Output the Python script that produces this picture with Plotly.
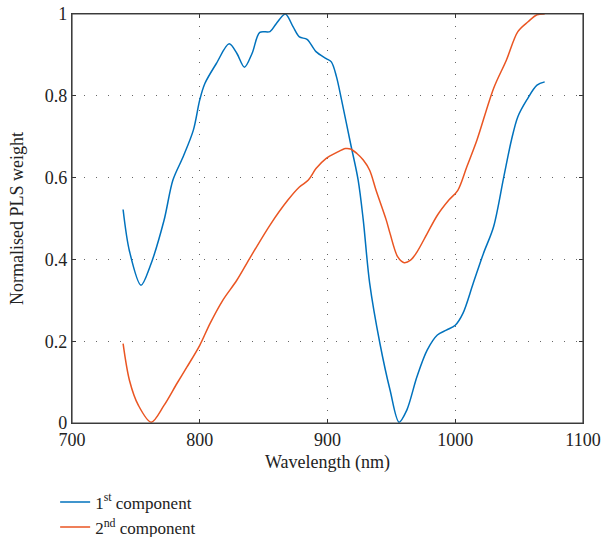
import plotly.graph_objects as go

wl_1 = [740, 745, 754, 761, 772, 779, 787, 795, 800, 804, 813, 823, 829, 835, 841, 847, 855, 860, 867,
        873, 878, 884, 891, 899, 903, 907, 911, 918, 924, 928, 933, 941, 949, 956, 962, 970, 978, 986,
        993, 1000, 1006, 1014, 1022, 1030, 1038, 1044, 1049, 1056, 1064, 1070]
w_1 = [0.522, 0.42, 0.337, 0.382, 0.495, 0.594, 0.651, 0.716, 0.79, 0.83, 0.879, 0.927, 0.904, 0.870,
       0.904, 0.955, 0.957, 0.977, 1.0, 0.969, 0.944, 0.938, 0.908, 0.891, 0.883, 0.847, 0.79, 0.684,
       0.594, 0.496, 0.342, 0.195, 0.08, 0.002, 0.031, 0.113, 0.178, 0.215, 0.227, 0.239, 0.268, 0.341,
       0.414, 0.48, 0.602, 0.692, 0.749, 0.79, 0.826, 0.834]

wl_2 = [740, 745, 752, 762, 772, 782, 790, 800, 808, 818, 829, 839, 855, 869, 878, 885, 891, 899, 907,
        914, 918, 923, 928, 933, 938, 946, 949, 955, 960, 965, 970, 978, 986, 995, 1002, 1009, 1017,
        1030, 1040, 1049, 1057, 1064, 1070]
w_2 = [0.194, 0.104, 0.043, 0.002, 0.043, 0.096, 0.137, 0.19, 0.243, 0.30, 0.349, 0.402, 0.484, 0.545,
       0.577, 0.594, 0.622, 0.647, 0.661, 0.671, 0.670, 0.659, 0.643, 0.618, 0.569, 0.496, 0.463, 0.406,
       0.392, 0.398, 0.418, 0.463, 0.508, 0.545, 0.569, 0.626, 0.692, 0.818, 0.887, 0.957, 0.981, 0.998,
       1.0]

x_ticks = [700, 800, 900, 1000, 1100]
y_ticks = [0, 0.2, 0.4, 0.6, 0.8, 1]
y_tick_text = ["0", "0.2", "0.4", "0.6", "0.8", "1"]

FONT = "Liberation Serif"
W, H = 606, 537

fig = go.Figure()
fig.add_trace(go.Scatter(x=wl_1, y=w_1, mode="lines", name="1<sup>st</sup> component",
                         line=dict(color="#0072BD", width=1.5, shape="spline", smoothing=0.9)))
fig.add_trace(go.Scatter(x=wl_2, y=w_2, mode="lines", name="2<sup>nd</sup> component",
                         line=dict(color="#EA5522", width=1.5, shape="spline", smoothing=0.9)))

axis_common = dict(showline=True, linecolor="#333333", linewidth=1.2, mirror="ticks",
                   ticks="inside", ticklen=4, tickcolor="#333333",
                   showgrid=True, gridcolor="#666666", griddash="1px,11px", gridwidth=1,
                   zeroline=False, ticklabeloverflow="allow",
                   tickfont=dict(family=FONT, size=18, color="#222"))

fig.update_xaxes(range=[700, 1100], tickvals=x_ticks,
                 title=dict(text="Wavelength (nm)", font=dict(family=FONT, size=18, color="#222"), standoff=6),
                 **axis_common)
fig.update_yaxes(range=[0, 1], tickvals=y_ticks, ticktext=y_tick_text,
                 title=dict(text="Normalised PLS weight", font=dict(family=FONT, size=18, color="#222"), standoff=16),
                 **axis_common)

# axes box outline
fig.add_shape(type="rect", xref="paper", yref="paper", x0=0, x1=1, y0=0, y1=1,
              line=dict(color="#444444", width=1.2), layer="above")

fig.update_layout(
    width=W, height=H,
    margin=dict(l=72, r=23, t=14, b=114, autoexpand=False),
    plot_bgcolor="white", paper_bgcolor="white",
    showlegend=True,
    legend=dict(x=-0.033, y=-0.15, xanchor="left", yanchor="top",
                font=dict(family=FONT, size=17, color="#222"),
                bgcolor="rgba(0,0,0,0)", tracegroupgap=0, itemwidth=30),
)

fig.write_html("out.html", post_script="document.body.style.margin='0';",
               config={"displayModeBar": False})
